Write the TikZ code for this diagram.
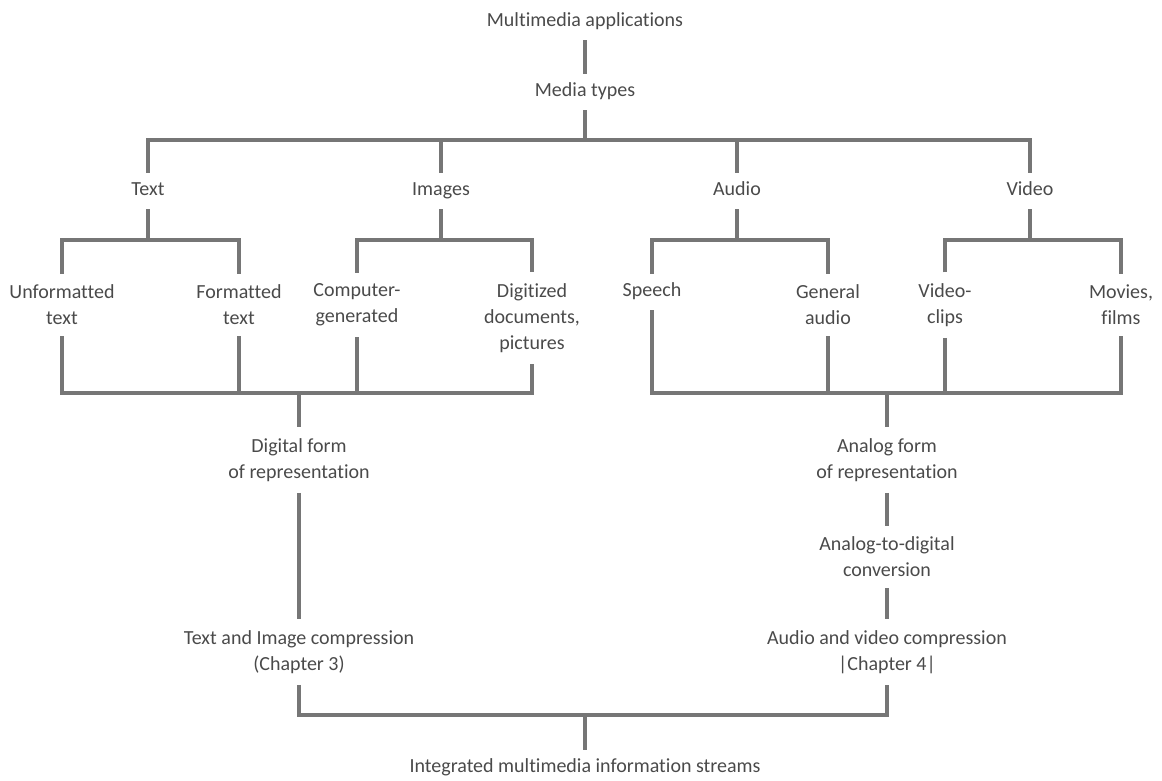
\documentclass[tikz,border=0pt]{standalone}
\usepackage{fontspec}
\setmainfont{Carlito}[Ligatures={NoCommon}]
\definecolor{linegray}{HTML}{767676}
\definecolor{textgray}{HTML}{4A4A4A}
\begin{document}
\begin{tikzpicture}[x=1pt,y=-1pt,
  lbl/.style={font=\fontsize{20}{26}\selectfont, text=textgray, align=center, inner xsep=0pt},
  single/.style={lbl, text height=14pt, text depth=4.5pt, inner ysep=9pt},
  multi/.style={lbl, inner ysep=11pt},
  conn/.style={draw=linegray, line width=3.6pt}]
\useasboundingbox (0,0) rectangle (1162,780);
% nodes
\node[single] (app) at (585,22) {Multimedia applications};
\node[single] (types) at (585,92) {Media types};
\node[single] (text) at (148,191) {Text};
\node[single] (images) at (441,191) {Images};
\node[single] (audio) at (737,191) {Audio};
\node[single] (video) at (1030,191) {Video};
\node[multi] (unf) at (62,305) {Unformatted\\text};
\node[multi] (fmt) at (239,305) {Formatted\\text};
\node[multi] (comp) at (357,305) {Computer-\\generated};
\node[multi] (dig) at (532,318) {Digitized\\documents,\\pictures};
\node[single] (speech) at (652,292) {Speech};
\node[multi] (gen) at (828,305) {General\\audio};
\node[multi] (vclip) at (945,305) {Video-\\clips};
\node[multi] (movies) at (1121,305) {Movies,\\films};
\node[multi] (digital) at (299,460) {Digital form\\of representation};
\node[multi] (analog) at (887,460) {Analog form\\of representation};
\node[multi] (a2d) at (887,557) {Analog-to-digital\\conversion};
\node[multi] (tic) at (299,652) {Text and Image compression\\(Chapter 3)};
\node[multi] (avc) at (887,652) {Audio and video compression\\|Chapter 4|};
\node[single] (integ) at (585,768) {Integrated multimedia information streams};
% junction points
\coordinate (b1) at (585,140);
\coordinate (tb) at (148,240);
\coordinate (ib) at (441,240);
\coordinate (ab) at (737,240);
\coordinate (vb) at (1030,240);
\coordinate (lb) at (299,393);
\coordinate (rb) at (887,393);
\coordinate (bb) at (585,715);
% connectors
\draw[conn] (app) -- (types);
\draw[conn] (types) -- (b1);
\draw[conn] (text) |- (b1) -| (video);
\draw[conn] (images) -- (images |- b1);
\draw[conn] (audio) -- (audio |- b1);
\draw[conn] (text) -- (tb);
\draw[conn] (unf) |- (tb) -| (fmt);
\draw[conn] (images) -- (ib);
\draw[conn] (comp) |- (ib) -| (dig);
\draw[conn] (audio) -- (ab);
\draw[conn] (speech) |- (ab) -| (gen);
\draw[conn] (video) -- (vb);
\draw[conn] (vclip) |- (vb) -| (movies);
\draw[conn] (unf) |- (lb) -| (dig);
\draw[conn] (fmt) -- (fmt |- lb);
\draw[conn] (comp) -- (comp |- lb);
\draw[conn] (lb) -- (digital);
\draw[conn] (speech) |- (rb) -| (movies);
\draw[conn] (gen) -- (gen |- rb);
\draw[conn] (vclip) -- (vclip |- rb);
\draw[conn] (rb) -- (analog);
\draw[conn] (digital) -- (tic);
\draw[conn] (analog) -- (a2d);
\draw[conn] (a2d) -- (avc);
\draw[conn] (tic) |- (bb) -| (avc);
\draw[conn] (bb) -- (integ);
\end{tikzpicture}
\end{document}
